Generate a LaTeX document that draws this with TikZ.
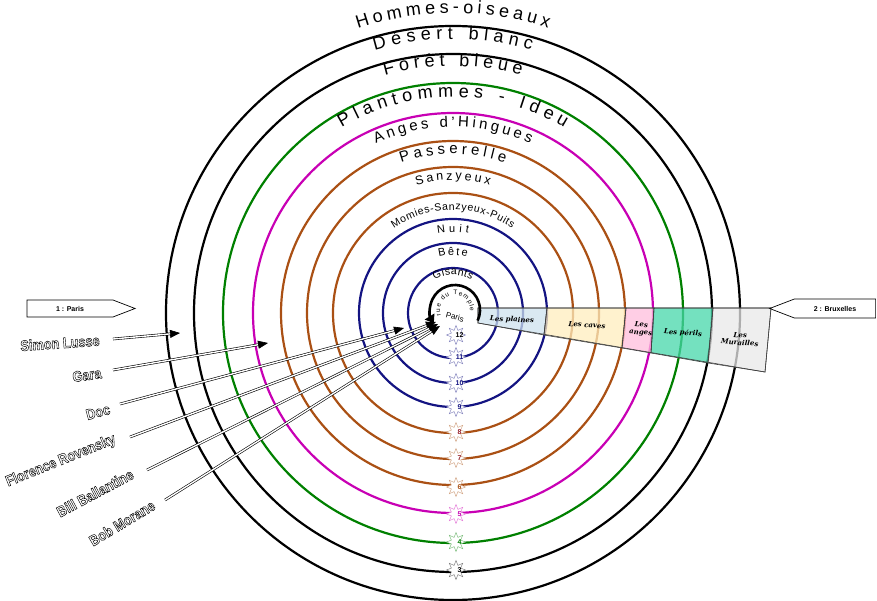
\documentclass[tikz,border=0pt]{standalone}
\usepackage{fontspec}
\setmainfont{Liberation Sans}
\newfontfamily\zonefont{DejaVu Serif}
\usepackage{tikz}
\usetikzlibrary{shapes,shapes.symbols}
\usetikzlibrary{decorations,decorations.text}
\usetikzlibrary{arrows.meta,calc}
\definecolor{ringblue}{RGB}{20,20,130}
\definecolor{ringbrown}{RGB}{170,80,20}
\definecolor{ringmagenta}{RGB}{200,0,180}
\definecolor{ringgreen}{RGB}{0,128,0}
\definecolor{numred}{RGB}{150,30,40}
\definecolor{plaines}{RGB}{205,226,238}
\definecolor{caves}{RGB}{255,238,190}
\definecolor{anges}{RGB}{255,190,220}
\definecolor{perils}{RGB}{70,215,170}
\definecolor{murailles}{RGB}{232,232,232}
\tikzstyle{ring}=[line width=2.2]
\tikzstyle{sun}=[star, star points=8, star point ratio=1.9, minimum size=19, inner sep=0, fill=white, line width=0.5]
\tikzstyle{zone}=[draw=black!75, line width=0.6, fill opacity=0.75]
\tikzstyle{zonetext}=[font=\zonefont\bfseries\itshape\fontsize{7}{7.5}\selectfont, align=center, inner sep=0]
\tikzstyle{citytag}=[draw, line width=0.7, fill=white, signal, signal pointer angle=42, inner sep=0, font=\bfseries\fontsize{7}{7}\selectfont]
\tikzstyle{hero}=[font=\bfseries\fontsize{15}{15}\selectfont, xscale=0.85, inner sep=0]
\tikzstyle{heroarrow}=[double, double distance=1.4, line width=0.6, -{Triangle[length=10pt,width=8pt]}]
\newcommand{\hollow}[1]{\special{pdf:literal direct 1 Tr 0.5 w}#1\special{pdf:literal direct 0 Tr}}
\newcommand{\ringlabel}[4]{
\path[decorate, decoration={text along path, text align=fit to path, text={|\fontsize{#3}{#3}\selectfont|#4}}]
	($(c)+(90+#2:#1)$) arc[start angle=90+#2, end angle=90-#2, radius=#1];
}

\begin{document}
\begin{tikzpicture}[x=1pt,y=1pt]
\useasboundingbox (0,0) rectangle (877,600);
\coordinate (c) at (453,287);
\coordinate (p) at (455,290);
\foreach \r/\col in {45/ringblue,70/ringblue,94/ringblue,120/ringbrown,146/ringbrown,172/ringbrown,200/ringmagenta,230/ringgreen,259/black,287/black} {
	\draw[ring, color=\col] (c) circle[radius=\r];
}
\fill[zone, fill=plaines] (478,292) -- (547,292) -- (544,265) -- (478,277) -- cycle;
\fill[zone, fill=caves] (547,292) -- (626,292) -- (622,252) -- (544,265) -- cycle;
\fill[zone, fill=anges] (626,292) -- (654,292) -- (651,247) -- (622,252) -- cycle;
\fill[zone, fill=perils] (654,292) -- (713,292) -- (708,237) -- (651,247) -- cycle;
\fill[zone, fill=murailles] (713,292) -- (771,292) -- (765,228) -- (708,237) -- cycle;
\draw[black!75, line width=0.6] (478,292) -- (771,292) -- (765,228) -- (478,277) -- cycle;
\foreach \a/\b in {547/544,626/622,654/651,713/708} {
	\draw[black!75, line width=0.6] (\a,292) -- (\b,{277-0.171*(\b-478)});
}
\node[zonetext, rotate=-3] (plainestext) at (512,280) {Les plaines};
\node[zonetext, rotate=-4] (cavestext) at (587,275) {Les caves};
\node[zonetext, rotate=-4] (angestext) at (641,271) {Les\\anges};
\node[zonetext, rotate=-4] (perilstext) at (683,267) {Les périls};
\node[zonetext, rotate=-4] (muraillestext) at (740,261) {Les\\Murailles};
\draw[line width=2.6, -{Triangle[length=8pt,width=11pt]}] ($(p)+(-25:25)$) arc[start angle=-25, end angle=212, radius=25];
\foreach \y/\n/\col/\numcol in {265/12/ringblue/black,243/11/ringblue/ringblue,217/10/ringblue/ringblue,193/9/ringblue/ringblue,168/8/ringbrown/numred,142/7/ringbrown/numred,113/6/ringbrown/ringbrown,86/5/ringmagenta/ringmagenta,58/4/ringgreen/ringgreen,30/3/black/black} {
	\node[sun, draw=\col!50] (sun\n) at (456,\y) {};
	\node[font=\bfseries\fontsize{7}{7}\selectfont, text=\numcol, inner sep=0] (num\n) at ($(sun\n)+(3.5,0)$) {\n};
}
\ringlabel{300}{18.5}{18}{Hommes-oiseaux}
\ringlabel{274}{16.6}{18}{Désert blanc}
\ringlabel{247}{16}{18}{Forêt bleue}
\ringlabel{216}{31}{18}{Plantommes - Ideu}
\ringlabel{186}{24.5}{15}{Anges d'Hingues}
\ringlabel{159}{19}{15}{Passerelle}
\ringlabel{133}{16}{12.5}{Sanzyeux}
\ringlabel{103}{35}{10.5}{Momies-Sanzyeux-Puits}
\ringlabel{81}{11}{11}{Nuit}
\ringlabel{58}{14}{11}{Bête}
\ringlabel{38}{29}{10.5}{Gisants}
\path[decorate, decoration={text along path, text align=fit to path, text={|\fontsize{6.5}{6.5}\selectfont|rue du Temple}}]
	($(p)+(200:15)$) arc[start angle=200, end angle=-5, radius=15];
\node[font=\fontsize{8}{8}\selectfont, rotate=-15, inner sep=0] (centre) at (455,283) {Paris};
\node[citytag, signal to=east, minimum width=108, minimum height=17] (paris) at (70,291.5) {1 : Paris};
\node[citytag, signal to=west, minimum width=106, minimum height=19] (bruxelles) at (835,291.5) {2 : Bruxelles};
\node[rotate=4, hero] (simon) at (60,257) {\hollow{Simon Lusse}};
\node[rotate=8, hero] (gara) at (87,225) {\hollow{Gara}};
\node[rotate=15, hero] (doc) at (98,188) {\hollow{Doc}};
\node[rotate=22, hero] (florence) at (61,139) {\hollow{Florence Rovensky}};
\node[rotate=28, hero] (bill) at (95,107) {\hollow{Bill Ballantine}};
\node[rotate=31, hero] (bob) at (122,77) {\hollow{Bob Morane}};
\coordinate (simon-from) at (113,261);
\coordinate (simon-to) at (180,267);
\coordinate (gara-from) at (113,230);
\coordinate (gara-to) at (268,257);
\coordinate (doc-from) at (120,196);
\coordinate (doc-to) at (404,272);
\coordinate (florence-from) at (130,163);
\coordinate (florence-to) at (436,278);
\coordinate (bill-from) at (147,130);
\coordinate (bill-to) at (438,276);
\coordinate (bob-from) at (165,100);
\coordinate (bob-to) at (440,274);
\foreach \who in {simon,gara,doc,florence,bill,bob} {
	\draw[heroarrow] (\who-from) -- (\who-to);
}
\end{tikzpicture}
\end{document}
